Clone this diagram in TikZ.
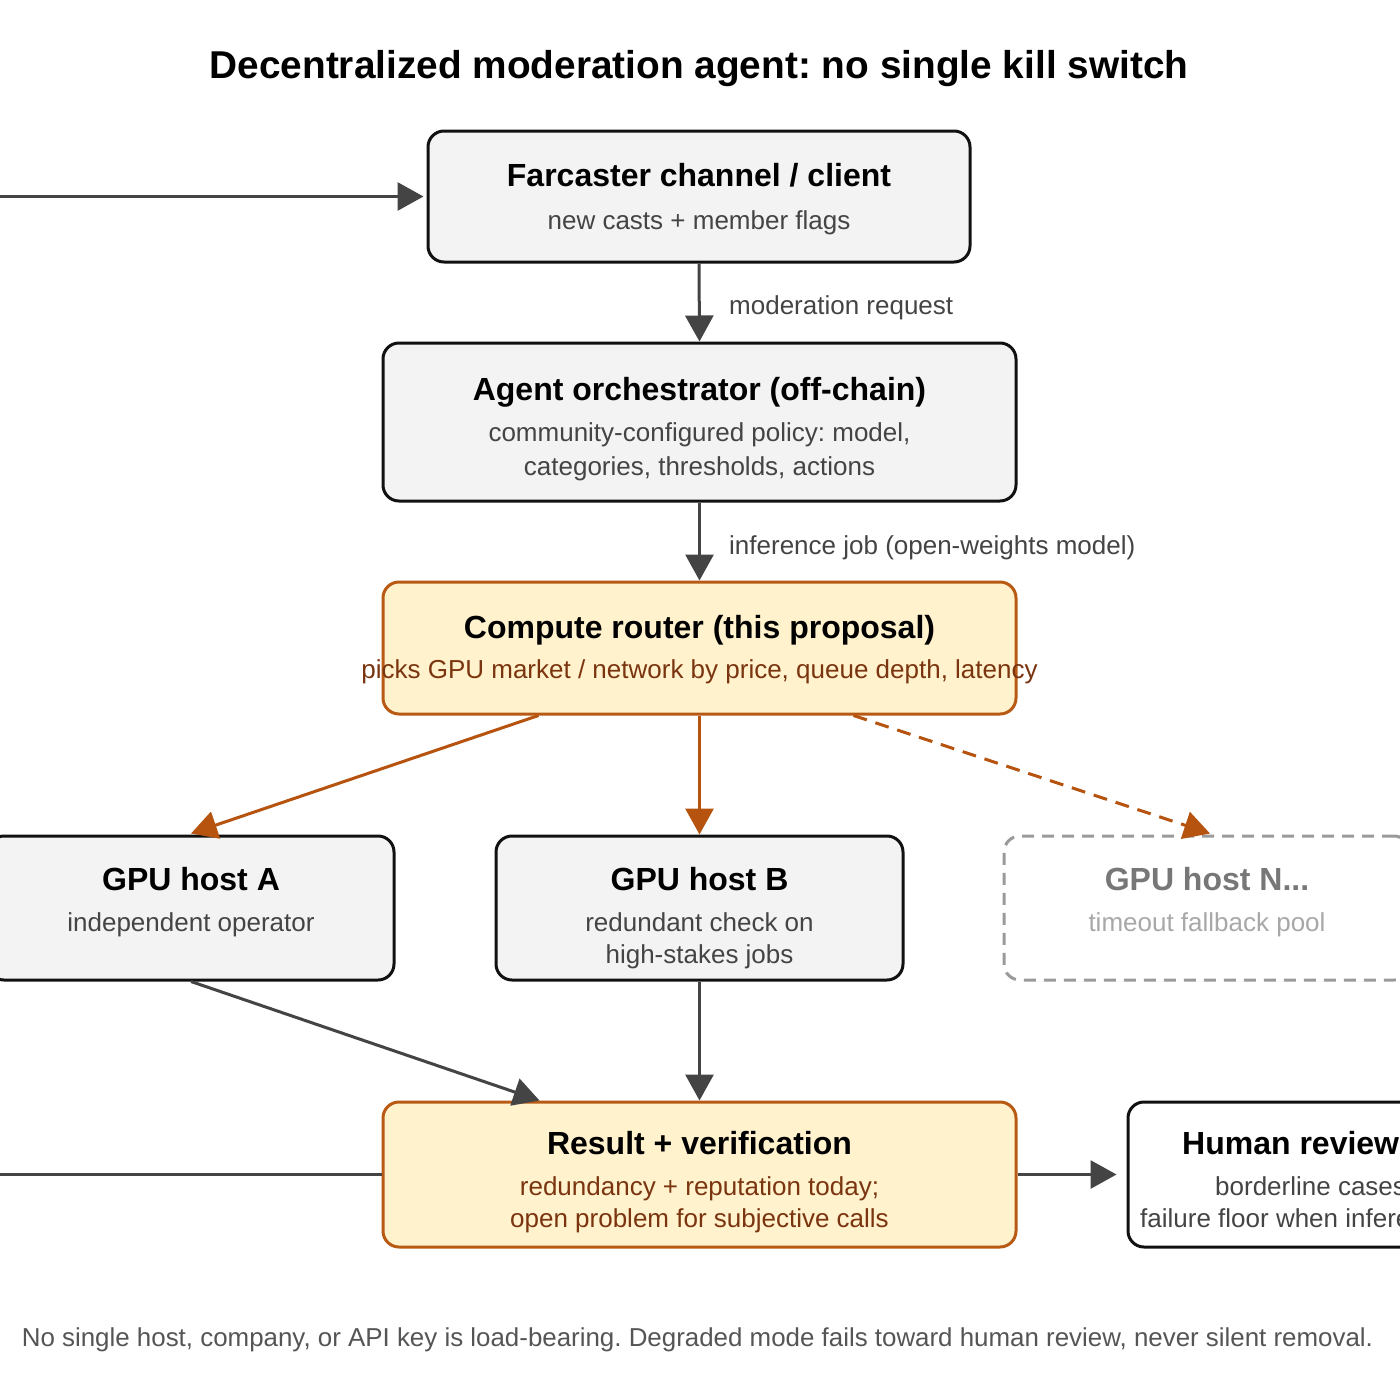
\documentclass[tikz,border=0pt]{standalone}
\usepackage{fontspec}
\setmainfont{Liberation Sans}
\usetikzlibrary{arrows.meta,calc}
\definecolor{boxfill}{HTML}{F3F3F3}
\definecolor{boxline}{HTML}{111111}
\definecolor{conn}{HTML}{444444}
\definecolor{yfill}{HTML}{FFF2CC}
\definecolor{yline}{HTML}{B85A14}
\definecolor{orarrow}{HTML}{B5530F}
\definecolor{brown}{HTML}{7A3510}
\definecolor{subgray}{HTML}{444444}
\definecolor{ghostline}{HTML}{9A9A9A}
\definecolor{ghosttitle}{HTML}{777777}
\definecolor{ghostsub}{HTML}{A8A8A8}
\definecolor{footgray}{HTML}{555555}
\tikzset{
  box/.style={draw=boxline, fill=boxfill, line width=3pt, rounded corners=16pt, inner sep=0pt},
  ybox/.style={draw=yline, fill=yfill, line width=3pt, rounded corners=16pt, inner sep=0pt},
  ghost/.style={draw=ghostline, line width=3pt, rounded corners=16pt, inner sep=0pt, dash pattern=on 12pt off 8pt},
  wbox/.style={draw=boxline, fill=white, line width=3pt, rounded corners=16pt, inner sep=0pt},
  ttl/.style={anchor=base, inner sep=0pt, font=\fontsize{32}{38}\selectfont\bfseries, text=black},
  sub/.style={anchor=base, inner sep=0pt, font=\fontsize{26}{31}\selectfont, text=subgray},
  ysub/.style={sub, text=brown},
  lbl/.style={anchor=base west, inner sep=0pt, font=\fontsize{26}{31}\selectfont, text=subgray},
  conn/.style={draw=conn, line width=3pt, -{Triangle[length=26pt,width=28pt]}},
  plain/.style={draw=conn, line width=3pt},
  oconn/.style={draw=orarrow, line width=3pt, -{Triangle[length=26pt,width=28pt]}},
}
\begin{document}
\frenchspacing
\begin{tikzpicture}[x=1pt,y=-1pt]
\useasboundingbox (0,0) rectangle (1400,1400);
\clip (0,0) rectangle (1400,1400);
\fill[white] (0,0) rectangle (1400,1400);

% title
\node[ttl, font=\fontsize{38.8}{46}\selectfont\bfseries] (title) at (699,78) {Decentralized moderation agent: no single kill switch};

% boxes
\node[box, minimum width=542pt, minimum height=131pt] (far) at (699,196.5) {};
\node[box, minimum width=633pt, minimum height=158pt] (agent) at (699.5,422) {};
\node[ybox, minimum width=633pt, minimum height=132pt] (router) at (699.5,648) {};
\node[box, minimum width=406pt, minimum height=144pt] (hostA) at (191,908) {};
\node[box, minimum width=407pt, minimum height=144pt] (hostB) at (699.5,908) {};
\node[ghost, minimum width=406pt, minimum height=144pt] (hostN) at (1207,908) {};
\node[ybox, minimum width=633pt, minimum height=145pt] (result) at (699.5,1174.5) {};
\node[wbox, minimum width=372pt, minimum height=145pt] (human) at (1314,1174.5) {};

% texts
\node[ttl] (farT) at (699,186) {Farcaster channel / client};
\node[sub] (farS) at (699,229) {new casts + member flags};

\node[ttl] (agentT) at (699.5,400) {Agent orchestrator (off-chain)};
\node[sub] (agentS1) at (699.5,441) {community-configured policy: model,};
\node[sub] (agentS2) at (699.5,475) {categories, thresholds, actions};

\node[ttl] (routerT) at (699.5,638) {Compute router (this proposal)};
\node[ysub] (routerS) at (699.5,678) {picks GPU market / network by price, queue depth, latency};

\node[ttl] (aT) at (191,890) {GPU host A};
\node[sub] (aS) at (191,931) {independent operator};

\node[ttl] (bT) at (699.5,890) {GPU host B};
\node[sub] (bS1) at (699.5,931) {redundant check on};
\node[sub] (bS2) at (699.5,963) {high-stakes jobs};

\node[ttl, text=ghosttitle] (nT) at (1207,890) {GPU host N...};
\node[sub, text=ghostsub] (nS) at (1207,931) {timeout fallback pool};

\node[ttl] (resT) at (699.5,1154) {Result + verification};
\node[ysub] (resS1) at (699.5,1195) {redundancy + reputation today;};
\node[ysub] (resS2) at (699.5,1227) {open problem for subjective calls};

\node[ttl, anchor=base west] (humT) at (1182,1154) {Human review};
\node[sub, anchor=base west] (humS1) at (1215,1195) {borderline cases};
\node[sub, anchor=base west] (humS2) at (1140,1227) {failure floor when inference};

% labels
\node[lbl] (lblMod) at (729,314) {moderation request};
\node[lbl] (lblInf) at (729,554) {inference job (open-weights model)};

% footer
\node[anchor=base, inner sep=0pt, font=\fontsize{25.9}{31}\selectfont, text=footgray] (foot) at (697.5,1346) {No single host, company, or API key is load-bearing. Degraded mode fails toward human review, never silent removal.};

% connectors
\coordinate (inTop) at (-10,196.5);
\coordinate (inBot) at (-10,1174.5);
\draw[conn, shorten >=3pt] (inTop) -- (far.west);
\draw[conn] (far.south) -- (agent.north);
\draw[conn] (agent.south) -- (router.north);
\draw[oconn] ($(router.south west)+(157,0)$) -- ($(hostA.north)+(0,-1)$);
\draw[oconn] (router.south) -- (hostB.north);
\draw[oconn, dash pattern=on 14pt off 9pt] ($(router.south west)+(472,0)$) -- ($(hostN.north)+(3,-1)$);
\draw[conn] (hostA.south) -- ($(result.north west)+(158,0)$);
\draw[conn] (hostB.south) -- (result.north);
\draw[plain] (inBot) -- (result.west);
\draw[conn, shorten >=10pt] (result.east) -- (human.west);
\end{tikzpicture}
\end{document}
